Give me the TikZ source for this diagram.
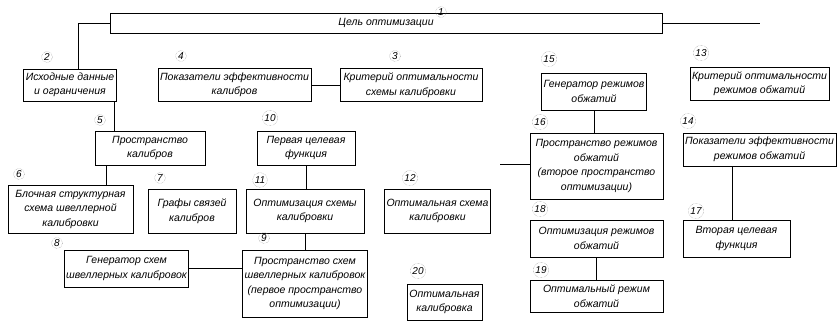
\documentclass[tikz,border=0pt]{standalone}
\usepackage{fontspec}
\setmainfont{Liberation Sans}
\usetikzlibrary{positioning, calc}
\tikzset{
  blk/.style={
    draw,
    line width=0.9pt,
    align=center,
    inner sep=2pt,
    font=\fontsize{10.5}{14.5}\selectfont\itshape
  },
  num/.style={
    circle,
    draw=black!50,
    densely dotted,
    inner sep=0.8pt,
    font=\fontsize{10}{12}\selectfont\itshape
  },
  link/.style={line width=0.6pt}
}

\begin{document}
\begin{tikzpicture}[x=1pt, y=-1pt]
  \useasboundingbox (0,0) rectangle (838,321);
  % top goal
  \node[blk, minimum width=552pt, minimum height=20pt] (goal) at (386,23) {Цель оптимизации};
  % first optimization space (left)
  \node[blk, minimum width=90pt, minimum height=32pt] (input) at (70,85) {Исходные данные\\и ограничения};
  \node[blk, minimum width=153pt, minimum height=33pt] (effcal) at (234.5,85) {Показатели эффективности\\калибров};
  \node[blk, minimum width=142pt, minimum height=33pt] (critcal) at (411,85) {Критерий оптимальности\\схемы калибровки};
  \node[blk, minimum width=110pt, minimum height=34pt] (spacecal) at (150,148) {Пространство\\калибров};
  \node[blk, minimum width=98pt, minimum height=34pt] (target1) at (306,148) {Первая целевая\\функция};
  \node[blk, minimum width=125pt, minimum height=48pt] (blockscheme) at (70.5,209) {Блочная структурная\\схема швеллерной\\калибровки};
  \node[blk, minimum width=88pt, minimum height=44pt] (graphs) at (192,211) {Графы связей\\калибров};
  \node[blk, minimum width=118pt, minimum height=44pt] (optscheme) at (305,211) {Оптимизация схемы\\калибровки};
  \node[blk, minimum width=89pt, minimum height=44pt] (bestscheme) at (437.5,211) {Оптимальная схема\\калибровки};
  \node[blk, minimum width=119pt, minimum height=37pt] (gencal) at (126.5,268.5) {Генератор схем\\швеллерных калибровок};
  \node[blk, minimum width=118pt, minimum height=67pt] (spacescheme) at (305,283.5) {Пространство схем\\швеллерных калибровок\\(первое пространство\\оптимизации)};
  \node[blk, minimum width=75pt, minimum height=36pt] (bestcal) at (444.5,302) {Оптимальная\\калибровка};
  % second optimization space (right)
  \node[blk, minimum width=102pt, minimum height=37pt] (genmode) at (594,91.5) {Генератор режимов\\обжатий};
  \node[blk, minimum width=125pt, minimum height=33pt] (critmode) at (759.5,83.5) {Критерий оптимальности\\режимов обжатий};
  \node[blk, minimum width=133pt, minimum height=66pt] (spacemode) at (596.5,166) {Пространство режимов\\обжатий\\(второе пространство\\оптимизации)};
  \node[blk, minimum width=153pt, minimum height=33pt] (effmode) at (759.5,149.5) {Показатели эффективности\\режимов обжатий};
  \node[blk, minimum width=133pt, minimum height=37pt] (optmode) at (596.5,238.5) {Оптимизация режимов\\обжатий};
  \node[blk, minimum width=107pt, minimum height=37pt] (target2) at (736.5,238.5) {Вторая целевая\\функция};
  \node[blk, minimum width=133pt, minimum height=32pt] (bestmode) at (596.5,296) {Оптимальный режим\\обжатий};

  % position numbers
  \node[num] (k1) at (441,12) {1};
  \node[num] (k2) at (47,57) {2};
  \node[num] (k4) at (181,56) {4};
  \node[num] (k3) at (395,56) {3};
  \node[num] (k15) at (549,59) {15};
  \node[num] (k13) at (701,53) {13};
  \node[num] (k5) at (100,120) {5};
  \node[num] (k10) at (270,118) {10};
  \node[num] (k6) at (19,174) {6};
  \node[num] (k7) at (160,178) {7};
  \node[num] (k11) at (260,180) {11};
  \node[num] (k12) at (410,178) {12};
  \node[num] (k8) at (57,243) {8};
  \node[num] (k9) at (264,238) {9};
  \node[num] (k20) at (418,271) {20};
  \node[num] (k16) at (540,122) {16};
  \node[num] (k14) at (688,121) {14};
  \node[num] (k18) at (540,209) {18};
  \node[num] (k17) at (696,211) {17};
  \node[num] (k19) at (541,270) {19};

  % free ends
  \coordinate (goalend) at (760,23);
  \coordinate (modein) at (500,164);

  % connectors
  \draw[link] (goal.west) -| ([xshift=8pt]input.north);
  \draw[link] (goal.east) -- (goalend);
  \draw[link] (effcal.east) -- (critcal.west);
  \draw[link] ([xshift=-2pt]input.south east) -- ([xshift=-2pt]input.south east |- spacecal.north);
  \draw[link] ([xshift=-44pt]spacecal.south) -- ([xshift=-44pt]spacecal.south |- blockscheme.north);
  \draw[link] (target1.south) -- (target1.south |- optscheme.north);
  \draw[link] (spacescheme.north) -- (optscheme.south);
  \draw[link] (gencal.east) -- (gencal.east -| spacescheme.west);
  \draw[link] (genmode.south) -- (genmode.south |- spacemode.north);
  \draw[link] (modein) -- (modein -| spacemode.west);
  \draw[link] ([xshift=-27.5pt]effmode.south) -- ([xshift=-27.5pt]effmode.south |- target2.north);
  \draw[link] (optmode.south) -- (bestmode.north);
\end{tikzpicture}
\end{document}
